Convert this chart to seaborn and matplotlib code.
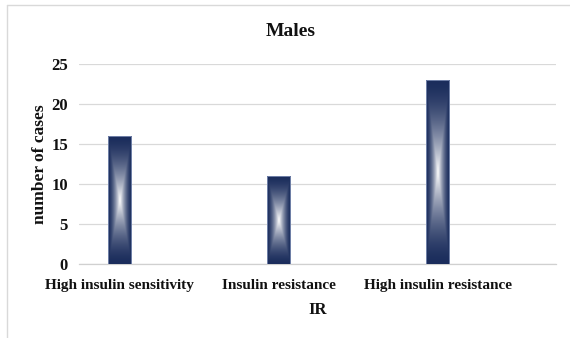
import numpy as np
import pandas as pd
import matplotlib
matplotlib.use("Agg")
import matplotlib.pyplot as plt
from matplotlib.lines import Line2D
import seaborn as sns

categories = ["High insulin sensitivity", "Insulin resistance", "High insulin resistance"]
values = [16, 11, 23]
yticks = [0, 5, 10, 15, 20, 25]
title = "Males"
xlabel = "IR"
ylabel = "number of cases"

sns.set_theme(style="white")
plt.rcParams['font.family'] = ['Liberation Serif', 'DejaVu Serif']
plt.rcParams['font.weight'] = 'bold'

fig = plt.figure(figsize=(5.7, 3.38), dpi=100)
ax = fig.add_axes([79/570, 74/338, (556-79)/570, (264-64)/338])

df = pd.DataFrame({"IR": categories, "cases": values})
sns.barplot(data=df, x="IR", y="cases", width=0.145, color="#1b2d5c", ax=ax, zorder=2)

dark = np.array([27, 45, 92]) / 255.0
white = np.array([1.0, 1.0, 1.0])
ny, nx = 200, 60
u = np.linspace(-1, 1, nx)[None, :]
v = np.linspace(-1, 1, ny)[:, None]
t = np.maximum(np.abs(u) * np.ones_like(v), np.abs(v) * np.ones_like(u))
s = (1 - t) ** 1.6
img = dark[None, None, :] * (1 - s[..., None]) + white[None, None, :] * s[..., None]

for p in list(ax.patches):
    x0, w, h = p.get_x(), p.get_width(), p.get_height()
    ax.imshow(img, extent=(x0, x0 + w, 0, h), aspect='auto', interpolation='bilinear', zorder=3)
    p.set_edgecolor("#7f8fb5")
    p.set_linewidth(0.6)
    p.set_facecolor("none")
    p.set_zorder(4)

ax.set_xlim(-0.255, 2.745)
ax.set_ylim(0, 25)
ax.set_yticks(yticks)
ax.yaxis.grid(True, color="#d9d9d9", linewidth=0.9, zorder=0)
ax.set_axisbelow(True)
for side in ["top", "right", "left"]:
    ax.spines[side].set_visible(False)
ax.spines["bottom"].set_color("#d0d0d0")
ax.spines["bottom"].set_linewidth(0.9)
ax.tick_params(axis='x', length=0, labelsize=11, colors="#111111", pad=11)
ax.tick_params(axis='y', length=0, labelsize=12, colors="#111111", pad=8)
for lab in ax.get_xticklabels() + ax.get_yticklabels():
    lab.set_fontweight('bold')

ax.set_xlabel(xlabel, fontsize=12, fontweight='bold', color="#111111", labelpad=7)
ax.set_ylabel(ylabel, fontsize=12.5, fontweight='bold', color="#111111", labelpad=2)
fig.text(291/570, 1 - 31/338, title, ha='center', va='center', fontsize=14, fontweight='bold', color="#111111")

fig.add_artist(Line2D([7/570, 7/570], [0, 1 - 5/338], transform=fig.transFigure, color="#d9d9d9", linewidth=1))
fig.add_artist(Line2D([7/570, 1], [1 - 5/338, 1 - 5/338], transform=fig.transFigure, color="#d9d9d9", linewidth=1))

fig.savefig("out.png", dpi=100)
